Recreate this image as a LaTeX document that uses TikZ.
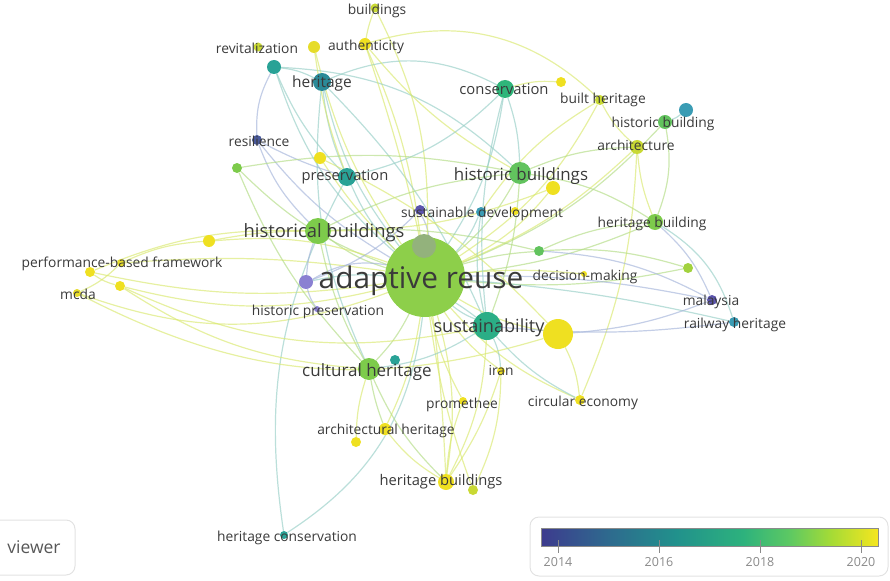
\documentclass[tikz,border=0pt]{standalone}
\usepackage{fontspec}
\setmainfont{Open Sans}
\usetikzlibrary{backgrounds,positioning}
\definecolor{labelgray}{HTML}{3A3A3A}
\definecolor{cAR}{HTML}{8DCF4A}
\definecolor{cArIn}{HTML}{93B27C}
\definecolor{cGreen}{HTML}{7DCB4B}
\definecolor{cGreenB}{HTML}{62C35E}
\definecolor{cTeal}{HTML}{2BAE86}
\definecolor{cTealB}{HTML}{2FB57A}
\definecolor{cTealC}{HTML}{29A296}
\definecolor{cTealBlue}{HTML}{2B8A98}
\definecolor{cBlueTeal}{HTML}{3A9CB4}
\definecolor{cBlue}{HTML}{4A5A9C}
\definecolor{cPurple}{HTML}{5C55AE}
\definecolor{cLavender}{HTML}{8A80D2}
\definecolor{cYellow}{HTML}{EFE021}
\definecolor{cYellowB}{HTML}{E6DC2A}
\definecolor{cYelGreen}{HTML}{C9D934}
\definecolor{cLightGreen}{HTML}{A2D23E}
\definecolor{eY}{HTML}{D9E86E}
\definecolor{eG}{HTML}{B2DC84}
\definecolor{eT}{HTML}{96CEC6}
\definecolor{eB}{HTML}{A4B4DA}
\definecolor{frameGray}{HTML}{E2E2E2}
\definecolor{tickGray}{HTML}{8A8A8A}
\definecolor{vA}{HTML}{3D3B8E}
\definecolor{vB}{HTML}{2E6A8E}
\definecolor{vC}{HTML}{21918C}
\definecolor{vD}{HTML}{2DB27D}
\definecolor{vE}{HTML}{5EC962}
\definecolor{vF}{HTML}{A5DB36}
\definecolor{vG}{HTML}{F5E61F}
\pgfdeclarehorizontalshading{viridisBar}{100bp}{color(0bp)=(vA); color(25bp)=(vA); color(35bp)=(vB); color(45bp)=(vC); color(55bp)=(vD); color(62bp)=(vE); color(68bp)=(vF); color(75bp)=(vG); color(100bp)=(vG)}
\tikzstyle{kw} = [circle, inner sep=0pt, draw=none]
\tikzstyle{kwlabel} = [inner sep=0pt, text=labelgray, text height=1ex, text depth=0pt, yshift=-2pt, node font=\fontsize{13.8}{15}\selectfont]
\tikzstyle{lnkY} = [draw=eY, line width=1.2pt, opacity=0.65]
\tikzstyle{lnkG} = [draw=eG, line width=1.2pt, opacity=0.65]
\tikzstyle{lnkT} = [draw=eT, line width=1.2pt, opacity=0.65]
\tikzstyle{lnkB} = [draw=eB, line width=1.2pt, opacity=0.65]
\tikzstyle{legendbox} = [draw=frameGray, line width=1pt, rounded corners=9pt]
\tikzstyle{yearlabel} = [text=tickGray, node font=\fontsize{12.5}{14}\selectfont]

\begin{document}
\begin{tikzpicture}[x=1pt, y=-1pt]
	            \useasboundingbox (0,0) rectangle (890,580);
	            % keywords
	            \node (adaptiveReuse) [kw, minimum size=80pt, fill=cAR] at (425,277) {};
	            \node (arInner) [kw, minimum size=24pt, fill=cArIn] at (424,246) {};
	            \node (historicalBuildings) [kw, minimum size=26pt, fill=cGreen] at (318,231) {};
	            \node (sustainability) [kw, minimum size=28pt, fill=cTeal] at (487,326) {};
	            \node (sustYellow) [kw, minimum size=30pt, fill=cYellow] at (558,334) {};
	            \node (culturalHeritage) [kw, minimum size=22pt, fill=cGreen] at (369,369) {};
	            \node (chTeal) [kw, minimum size=10pt, fill=cTealC] at (395,360) {};
	            \node (historicBuildings) [kw, minimum size=22pt, fill=cGreenB] at (520,173) {};
	            \node (conservation) [kw, minimum size=18pt, fill=cTealB] at (505,89) {};
	            \node (preservation) [kw, minimum size=18pt, fill=cTealC] at (347,177) {};
	            \node (heritage) [kw, minimum size=18pt, fill=cTealBlue] at (322,82) {};
	            \node (revitalization) [kw, minimum size=9pt, fill=cYelGreen] at (258,47) {};
	            \node (revTeal) [kw, minimum size=14pt, fill=cTealC] at (274,67) {};
	            \node (authYellow) [kw, minimum size=12pt, fill=cYellowB] at (314,47) {};
	            \node (authenticity) [kw, minimum size=12pt, fill=cYellow] at (365,44) {};
	            \node (buildings) [kw, minimum size=9pt, fill=cYelGreen] at (375,8) {};
	            \node (resilience) [kw, minimum size=10pt, fill=cBlue] at (257,140) {};
	            \node (presYellow) [kw, minimum size=12pt, fill=cYellow] at (320,158) {};
	            \node (leftGreen) [kw, minimum size=10pt, fill=cGreen] at (237,168) {};
	            \node (sdPurple) [kw, minimum size=10pt, fill=cPurple] at (420,210) {};
	            \node (sustainableDevelopment) [kw, minimum size=10pt, fill=cBlueTeal] at (481,212) {};
	            \node (sdYellow) [kw, minimum size=8pt, fill=cYellow] at (515,211) {};
	            \node (hbYellow) [kw, minimum size=14pt, fill=cYellow] at (553,188) {};
	            \node (builtYellow) [kw, minimum size=10pt, fill=cYellow] at (561,82) {};
	            \node (builtHeritage) [kw, minimum size=10pt, fill=cYelGreen] at (600,100) {};
	            \node (historicBuilding) [kw, minimum size=14pt, fill=cGreenB] at (665,122) {};
	            \node (hbTeal) [kw, minimum size=14pt, fill=cBlueTeal] at (686,110) {};
	            \node (architecture) [kw, minimum size=14pt, fill=cYelGreen] at (637,147) {};
	            \node (heritageBuilding) [kw, minimum size=16pt, fill=cGreen] at (655,222) {};
	            \node (dmGreen) [kw, minimum size=10pt, fill=cGreenB] at (539,251) {};
	            \node (decisionMaking) [kw, minimum size=6pt, fill=cYellow] at (584,274) {};
	            \node (rightGreen) [kw, minimum size=10pt, fill=cLightGreen] at (688,268) {};
	            \node (malaysia) [kw, minimum size=10pt, fill=cPurple] at (712,300) {};
	            \node (railwayHeritage) [kw, minimum size=10pt, fill=cBlueTeal] at (734,322) {};
	            \node (iran) [kw, minimum size=8pt, fill=cYellow] at (501,371) {};
	            \node (promethee) [kw, minimum size=8pt, fill=cYellow] at (463,401) {};
	            \node (circularEconomy) [kw, minimum size=10pt, fill=cYellow] at (580,400) {};
	            \node (architecturalHeritage) [kw, minimum size=12pt, fill=cYellow] at (385,429) {};
	            \node (ahYellow) [kw, minimum size=10pt, fill=cYellow] at (356,442) {};
	            \node (heritageBuildings) [kw, minimum size=16pt, fill=cYellow] at (446,482) {};
	            \node (hbsYellow) [kw, minimum size=10pt, fill=cYelGreen] at (473,490) {};
	            \node (heritageConservation) [kw, minimum size=8pt, fill=cTealC] at (284,535) {};
	            \node (hpPurple) [kw, minimum size=14pt, fill=cLavender] at (306,282) {};
	            \node (historicPreservation) [kw, minimum size=6pt, fill=cLavender] at (317,309) {};
	            \node (perfYellow) [kw, minimum size=12pt, fill=cYellow] at (209,241) {};
	            \node (perfA) [kw, minimum size=10pt, fill=cYellow] at (90,272) {};
	            \node (performanceFramework) [kw, minimum size=8pt, fill=cYellowB] at (121,263) {};
	            \node (perfB) [kw, minimum size=10pt, fill=cYellow] at (120,286) {};
	            \node (mcda) [kw, minimum size=8pt, fill=cYellowB] at (77,293) {};

	            % links
	            \begin{scope}[on background layer]
	            \draw [lnkG] (adaptiveReuse) to[bend left=10] (historicalBuildings);
	            \draw [lnkT] (adaptiveReuse) to[bend right=8] (sustainability);
	            \draw [lnkY] (adaptiveReuse) to[bend right=10] (sustYellow);
	            \draw [lnkG] (adaptiveReuse) to[bend left=8] (culturalHeritage);
	            \draw [lnkG] (adaptiveReuse) to[bend right=10] (historicBuildings);
	            \draw [lnkT] (adaptiveReuse) to[bend right=12] (conservation);
	            \draw [lnkT] (adaptiveReuse) to[bend left=10] (preservation);
	            \draw [lnkT] (adaptiveReuse) to[bend left=12] (heritage);
	            \draw [lnkT] (adaptiveReuse) to[bend left=15] (revTeal);
	            \draw [lnkY] (adaptiveReuse) to[bend right=8] (authenticity);
	            \draw [lnkB] (adaptiveReuse) to[bend left=10] (resilience);
	            \draw [lnkG] (adaptiveReuse) to[bend left=12] (leftGreen);
	            \draw [lnkB] (adaptiveReuse) to[bend right=10] (sdPurple);
	            \draw [lnkT] (adaptiveReuse) to[bend right=10] (sustainableDevelopment);
	            \draw [lnkY] (adaptiveReuse) to[bend right=12] (hbYellow);
	            \draw [lnkY] (adaptiveReuse) to[bend right=14] (builtHeritage);
	            \draw [lnkG] (adaptiveReuse) to[bend right=12] (historicBuilding);
	            \draw [lnkY] (adaptiveReuse) to[bend right=10] (architecture);
	            \draw [lnkG] (adaptiveReuse) to[bend right=8] (heritageBuilding);
	            \draw [lnkG] (adaptiveReuse) to[bend left=6] (dmGreen);
	            \draw [lnkY] (adaptiveReuse) to[bend left=5] (decisionMaking);
	            \draw [lnkG] (adaptiveReuse) to[bend right=8] (rightGreen);
	            \draw [lnkB] (adaptiveReuse) to[bend left=6] (malaysia);
	            \draw [lnkT] (adaptiveReuse) to[bend left=4] (railwayHeritage);
	            \draw [lnkY] (adaptiveReuse) to[bend right=10] (iran);
	            \draw [lnkY] (adaptiveReuse) to[bend right=8] (promethee);
	            \draw [lnkY] (adaptiveReuse) to[bend right=12] (circularEconomy);
	            \draw [lnkY] (adaptiveReuse) to[bend left=8] (architecturalHeritage);
	            \draw [lnkY] (adaptiveReuse) to[bend left=12] (heritageBuildings);
	            \draw [lnkY] (adaptiveReuse) to[bend right=6] (hbsYellow);
	            \draw [lnkT] (adaptiveReuse) to[bend left=25] (heritageConservation);
	            \draw [lnkB] (adaptiveReuse) to[bend right=20] (hpPurple);
	            \draw [lnkY] (adaptiveReuse) to[bend right=12] (perfYellow);
	            \draw [lnkY] (adaptiveReuse) to[bend left=10] (perfA);
	            \draw [lnkY] (adaptiveReuse) to[bend left=14] (perfB);
	            \draw [lnkY] (adaptiveReuse) to[bend left=20] (mcda);
	            \draw [lnkY] (adaptiveReuse) to[bend right=14] (buildings);
	            \draw [lnkY] (adaptiveReuse) to[bend left=10] (authYellow);
	            \draw [lnkY] (adaptiveReuse) to[bend left=6] (presYellow);
	            \draw [lnkY] (adaptiveReuse) to[bend right=6] (performanceFramework);
	            \draw [lnkT] (heritage) to[bend right=10] (revTeal);
	            \draw [lnkT] (heritage) to[bend left=25] (conservation);
	            \draw [lnkT] (heritage) to[bend right=8] (preservation);
	            \draw [lnkT] (heritage) to[bend left=10] (sustainability);
	            \draw [lnkT] (heritage) to[bend right=15] (culturalHeritage);
	            \draw [lnkB] (revTeal) to[bend right=15] (resilience);
	            \draw [lnkT] (revTeal) to[bend right=10] (preservation);
	            \draw [lnkT] (revTeal) to[bend left=20] (historicBuildings);
	            \draw [lnkB] (resilience) to[bend right=5] (preservation);
	            \draw [lnkB] (resilience) to[bend right=12] (historicalBuildings);
	            \draw [lnkY] (authenticity) to[bend left=5] (buildings);
	            \draw [lnkY] (authenticity) to[bend left=8] (heritageBuildings);
	            \draw [lnkY] (authenticity) to[bend right=10] (historicBuildings);
	            \draw [lnkY] (authYellow) to[bend right=6] (preservation);
	            \draw [lnkY] (authenticity) to[bend left=30] (builtHeritage);
	            \draw [lnkT] (conservation) to[bend left=8] (historicBuildings);
	            \draw [lnkT] (conservation) to[bend right=10] (sustainability);
	            \draw [lnkT] (conservation) to[bend left=15] (preservation);
	            \draw [lnkY] (conservation) to[bend left=10] (builtYellow);
	            \draw [lnkG] (historicBuildings) to[bend left=10] (architecture);
	            \draw [lnkG] (historicBuildings) to[bend left=12] (heritageBuilding);
	            \draw [lnkG] (historicBuildings) to[bend right=10] (historicalBuildings);
	            \draw [lnkG] (historicBuildings) to[bend left=8] (sustainability);
	            \draw [lnkY] (builtHeritage) to[bend right=10] (architecture);
	            \draw [lnkY] (builtHeritage) to[bend right=12] (sustainableDevelopment);
	            \draw [lnkT] (historicBuilding) to[bend right=10] (hbTeal);
	            \draw [lnkG] (historicBuilding) to[bend left=15] (heritageBuilding);
	            \draw [lnkY] (architecture) to[bend right=8] (heritageBuilding);
	            \draw [lnkY] (architecture) to[bend left=10] (circularEconomy);
	            \draw [lnkB] (heritageBuilding) to[bend left=12] (malaysia);
	            \draw [lnkT] (heritageBuilding) to[bend left=20] (railwayHeritage);
	            \draw [lnkG] (heritageBuilding) to[bend right=10] (dmGreen);
	            \draw [lnkB] (malaysia) to[bend left=8] (sustYellow);
	            \draw [lnkB] (railwayHeritage) to[bend left=6] (sustainability);
	            \draw [lnkB] (malaysia) to[bend right=12] (dmGreen);
	            \draw [lnkG] (rightGreen) to[bend right=10] (dmGreen);
	            \draw [lnkG] (dmGreen) to[bend right=8] (historicalBuildings);
	            \draw [lnkB] (sdPurple) to[bend left=12] (hpPurple);
	            \draw [lnkT] (sustainableDevelopment) to[bend right=10] (sustainability);
	            \draw [lnkY] (sustYellow) to[bend left=10] (circularEconomy);
	            \draw [lnkT] (sustainability) to[bend left=10] (iran);
	            \draw [lnkT] (sustainability) to[bend right=10] (circularEconomy);
	            \draw [lnkY] (sustainability) to[bend left=12] (heritageBuildings);
	            \draw [lnkT] (sustainability) to[bend left=12] (culturalHeritage);
	            \draw [lnkT] (sustainability) to[bend right=25] (hpPurple);
	            \draw [lnkG] (culturalHeritage) to[bend right=10] (heritageBuildings);
	            \draw [lnkG] (culturalHeritage) to[bend right=5] (architecturalHeritage);
	            \draw [lnkY] (culturalHeritage) to[bend right=8] (ahYellow);
	            \draw [lnkG] (culturalHeritage) to[bend left=8] (historicalBuildings);
	            \draw [lnkY] (promethee) to[bend right=8] (heritageBuildings);
	            \draw [lnkY] (iran) to[bend left=8] (heritageBuildings);
	            \draw [lnkY] (architecturalHeritage) to[bend right=10] (heritageBuildings);
	            \draw [lnkY] (iran) to[bend left=12] (hbsYellow);
	            \draw [lnkT] (heritageConservation) to[bend left=18] (preservation);
	            \draw [lnkB] (hpPurple) to[bend right=10] (historicPreservation);
	            \draw [lnkB] (hpPurple) to[bend left=8] (historicalBuildings);
	            \draw [lnkY] (perfA) to[bend left=12] (historicalBuildings);
	            \draw [lnkY] (perfYellow) to[bend left=5] (historicalBuildings);
	            \draw [lnkY] (perfB) to[bend right=18] (sustainability);
	            \draw [lnkY] (mcda) to[bend right=22] (sustYellow);
	            \draw [lnkY] (performanceFramework) to[bend left=10] (perfYellow);
	            \draw [lnkY] (perfA) to[bend right=10] (perfB);
	            \draw [lnkY] (mcda) to[bend right=10] (performanceFramework);
	            \draw [lnkY] (perfB) to[bend right=14] (culturalHeritage);
	            \draw [lnkG] (leftGreen) to[bend left=10] (historicBuildings);
	            \draw [lnkG] (leftGreen) to[bend right=10] (culturalHeritage);
	            \draw [lnkY] (presYellow) to[bend left=10] (sustYellow);
	            \draw [lnkY] (hbYellow) to[bend left=10] (historicalBuildings);
	            \end{scope}

	            % labels
	            \node (buildingsText) [kwlabel] at (377,9) {buildings};
	            \node (revitalizationText) [kwlabel] at (257,48) {revitalization};
	            \node (authenticityText) [kwlabel] at (366,45) {authenticity};
	            \node (heritageText) [kwlabel, node font=\fontsize{15.5}{17}\selectfont] at (322,81) {heritage};
	            \node (conservationText) [kwlabel, node font=\fontsize{14.8}{16}\selectfont] at (504,89) {conservation};
	            \node (builtHeritageText) [kwlabel] at (603,98) {built heritage};
	            \node (historicBuildingText) [kwlabel] at (663,122) {historic building};
	            \node (architectureText) [kwlabel] at (636,145) {architecture};
	            \node (resilienceText) [kwlabel] at (259,141) {resilience};
	            \node (preservationText) [kwlabel, node font=\fontsize{14.7}{16}\selectfont] at (345,175) {preservation};
	            \node (historicBuildingsText) [kwlabel, node font=\fontsize{16.9}{18}\selectfont] at (521,174) {historic buildings};
	            \node (sustainableDevelopmentText) [kwlabel] at (482,212) {sustainable development};
	            \node (heritageBuildingText) [kwlabel] at (652,222) {heritage building};
	            \node (historicalBuildingsText) [kwlabel, node font=\fontsize{18.4}{20}\selectfont] at (324,231) {historical buildings};
	            \node (performanceFrameworkText) [kwlabel] at (122,262) {performance-based framework};
	            \node (adaptiveReuseText) [kwlabel, node font=\fontsize{29.8}{32}\selectfont] at (421,279) {adaptive reuse};
	            \node (decisionMakingText) [kwlabel] at (585,275) {decision-making};
	            \node (malaysiaText) [kwlabel] at (711,300) {malaysia};
	            \node (mcdaText) [kwlabel] at (78,294) {mcda};
	            \node (historicPreservationText) [kwlabel] at (318,310) {historic preservation};
	            \node (sustainabilityText) [kwlabel, node font=\fontsize{18.1}{20}\selectfont] at (489,326) {sustainability};
	            \node (railwayHeritageText) [kwlabel] at (735,323) {railway heritage};
	            \node (culturalHeritageText) [kwlabel, node font=\fontsize{17}{19}\selectfont] at (367,370) {cultural heritage};
	            \node (iranText) [kwlabel] at (501,370) {iran};
	            \node (prometheeText) [kwlabel] at (462,403) {promethee};
	            \node (circularEconomyText) [kwlabel] at (583,401) {circular economy};
	            \node (architecturalHeritageText) [kwlabel] at (386,429) {architectural heritage};
	            \node (heritageBuildingsText) [kwlabel, node font=\fontsize{14.7}{16}\selectfont] at (441,480) {heritage buildings};
	            \node (heritageConservationText) [kwlabel] at (287,536) {heritage conservation};

	            % viewer button
	            \draw [legendbox] (-20,520) rectangle (75,575);
	            \node (viewerText) [text=labelgray!85, node font=\fontsize{17.5}{19}\selectfont] at (34,547) {viewer};

	            % year legend
	            \draw [legendbox] (530,517) rectangle (888,576);
	            \shade [shading=viridisBar] (541,528) rectangle (878,546);
	            \draw [tickGray, line width=0.6pt] (541,528) rectangle (878,546);
	            \node (year14) [yearlabel] at (558,562) {2014};
	            \node (year16) [yearlabel] at (659,562) {2016};
	            \node (year18) [yearlabel] at (760,562) {2018};
	            \node (year20) [yearlabel] at (861,562) {2020};
	            \draw [tickGray, line width=0.8pt] (558,540) -- (year14.north);
	            \draw [tickGray, line width=0.8pt] (659,540) -- (year16.north);
	            \draw [tickGray, line width=0.8pt] (760,540) -- (year18.north);
	            \draw [tickGray, line width=0.8pt] (861,540) -- (year20.north);
\end{tikzpicture}
\end{document}
